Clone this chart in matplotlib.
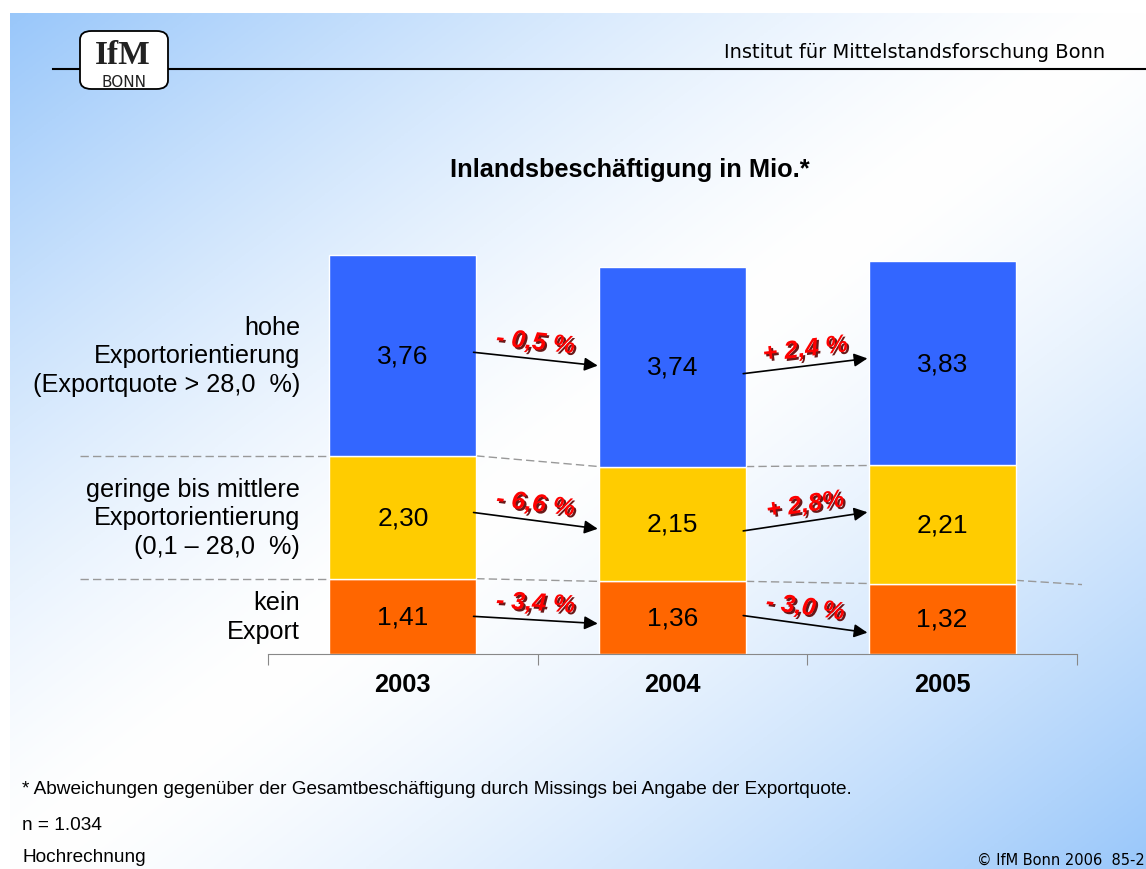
import numpy as np
import matplotlib.pyplot as plt
import matplotlib.patheffects as pe
from matplotlib.patches import FancyBboxPatch
from matplotlib.lines import Line2D

years = ['2003', '2004', '2005']
kein_export = [1.41, 1.36, 1.32]
geringe = [2.30, 2.15, 2.21]
hohe = [3.76, 3.74, 3.83]
change_kein = ['- 3,4 %', '- 3,0 %']
change_geringe = ['- 6,6 %', '+ 2,8%']
change_hohe = ['- 0,5 %', '+ 2,4 %']
group_labels = ['kein\nExport',
                'geringe bis mittlere\nExportorientierung\n(0,1 \u2013 28,0  %)',
                'hohe\nExportorientierung\n(Exportquote > 28,0  %)']

# small vertical nudges of the arrow ends (start, end) relative to segment centres
arrow_nudge = [[(0.0, -0.11), (0.04, -0.26)],
               [(0.09, -0.09), (-0.13, 0.23)],
               [(0.06, 0.02), (-0.13, 0.09)]]

W, H = 1146, 870
plt.rcParams['font.family'] = ['Liberation Sans', 'DejaVu Sans']
fig = plt.figure(figsize=(W / 100, H / 100), dpi=100)

# background gradient (blue top-left and bottom-right, white in the middle)
bg = fig.add_axes([10 / W, 0, 1 - 10 / W, 1 - 14 / H])
yy, xx = np.mgrid[0:1:300j, 0:1:300j]
f = np.clip(np.abs((xx + yy) / 2 - 0.5) * 2, 0, 1) ** 1.4
blue = np.array([0.60, 0.78, 0.98])
img = (1 - f)[..., None] * np.ones(3) + f[..., None] * blue
bg.imshow(img, aspect='auto', extent=[0, 1, 0, 1], origin='upper')
bg.axis('off')

# header
fig.add_artist(Line2D([53 / W, 1], [1 - 70 / H] * 2, color='black', lw=1.5, zorder=2))
fig.text(1105 / W, 1 - 53 / H, 'Institut für Mittelstandsforschung Bonn',
         ha='right', va='center', fontsize=14, family='DejaVu Sans')
fig.add_artist(FancyBboxPatch((80 / W, 1 - 90 / H), 88 / W, 58 / H,
                              boxstyle='round,pad=0,rounding_size=0.01',
                              transform=fig.transFigure, fc='white', ec='black', lw=1.3,
                              zorder=3))
fig.text(123 / W, 1 - 64 / H, 'IfM', ha='center', va='baseline', fontsize=24,
         family='Liberation Serif', weight='bold', color='#222222', zorder=4)
fig.text(124 / W, 1 - 87 / H, 'BONN', ha='center', va='baseline', fontsize=11,
         family='DejaVu Sans', color='#222222', zorder=4)

fig.text(630 / W, 1 - 170 / H, 'Inlandsbeschäftigung in Mio.*', ha='center', va='center',
         fontsize=18.3, weight='bold')

# main chart
ax = fig.add_axes([268 / W, (870 - 655) / H, 809 / W, 8 * 53.4 / H])
ax.patch.set_alpha(0)
ax.set_xlim(0, 3)
ax.set_ylim(0, 8)
x = np.arange(len(years)) + 0.5
w = 147 / 270

series = [kein_export, geringe, hohe]
colors = ['#FF6600', '#FFCC00', '#3366FF']
changes = [change_kein, change_geringe, change_hohe]
bottom = np.zeros(len(years))
for vals, col, chg, lab, nud in zip(series, colors, changes, group_labels, arrow_nudge):
    vals = np.array(vals)
    ax.bar(x, vals, w, bottom=bottom, color=col, edgecolor='white', linewidth=1, zorder=2)
    mids = bottom + vals / 2
    for xi, m, v in zip(x, mids, vals):
        ax.text(xi, m, f'{v:.2f}'.replace('.', ','), ha='center', va='center', fontsize=19, zorder=3)
    ax.text((300 - 268) / 270, mids[0], lab, ha='right', va='center', fontsize=18.2,
            linespacing=1.25)
    for i in range(len(years) - 1):
        p0 = (x[i] + w / 2 - 0.01, mids[i] + nud[i][0])
        p1 = (x[i + 1] - w / 2 - 0.005, mids[i + 1] + nud[i][1])
        ax.annotate('', xy=p1, xytext=p0,
                    arrowprops=dict(arrowstyle='-|>', color='black', lw=1.2,
                                    mutation_scale=20, shrinkA=0, shrinkB=0))
        d0 = ax.transData.transform(p0)
        d1 = ax.transData.transform(p1)
        ang = np.degrees(np.arctan2(d1[1] - d0[1], d1[0] - d0[0]))
        ax.annotate(chg[i], xy=((p0[0] + p1[0]) / 2, (p0[1] + p1[1]) / 2),
                    xytext=(0, 12), textcoords='offset points', ha='center', va='center',
                    rotation=ang, rotation_mode='anchor', fontsize=18, weight='bold',
                    style='italic', color='#FF0000',
                    path_effects=[pe.withSimplePatchShadow(offset=(1.5, -1.5),
                                                           shadow_rgbFace='#5a0000', alpha=0.9)])
    bottom = bottom + vals

# dashed separator lines
for level in [np.array(kein_export), np.array(kein_export) + np.array(geringe)]:
    ax.plot([(80 - 268) / 270, x[0] - w / 2], [level[0], level[0]], ls=(0, (6, 3)),
            color='#999999', lw=1, clip_on=False, zorder=1)
    for i in range(len(years) - 1):
        ax.plot([x[i] + w / 2, x[i + 1] - w / 2], [level[i], level[i + 1]], ls=(0, (6, 3)),
                color='#999999', lw=1, clip_on=False, zorder=1)
lvl = kein_export[-1]
ax.plot([x[-1] + w / 2, (1083 - 268) / 270], [lvl + 0.06, lvl - 0.02], ls=(0, (6, 3)),
        color='#999999', lw=1, clip_on=False, zorder=1)

for s in ['top', 'right', 'left']:
    ax.spines[s].set_visible(False)
ax.spines['bottom'].set_color('#888888')
ax.set_yticks([])
ax.set_xticks([0, 1, 2, 3])
ax.set_xticklabels([])
ax.tick_params(axis='x', which='major', length=8, color='#888888')
ax.set_xticks(x, minor=True)
ax.set_xticklabels(years, minor=True, fontsize=18.3, weight='bold')
ax.tick_params(axis='x', which='minor', length=0, pad=13)

# footer
fig.text(22 / W, 1 - 790 / H,
         '* Abweichungen gegenüber der Gesamtbeschäftigung durch Missings bei Angabe der Exportquote.',
         ha='left', va='center', fontsize=13.7)
fig.text(22 / W, 1 - 826 / H, 'n = 1.034', ha='left', va='center', fontsize=13.7)
fig.text(22 / W, 1 - 858 / H, 'Hochrechnung', ha='left', va='center', fontsize=13.7)
fig.text(1145 / W, 1 - 860 / H, '© IfM Bonn 2006  85-2', ha='right', va='center',
         fontsize=10.5, family='DejaVu Sans')

fig.savefig('out.png', dpi=100)
